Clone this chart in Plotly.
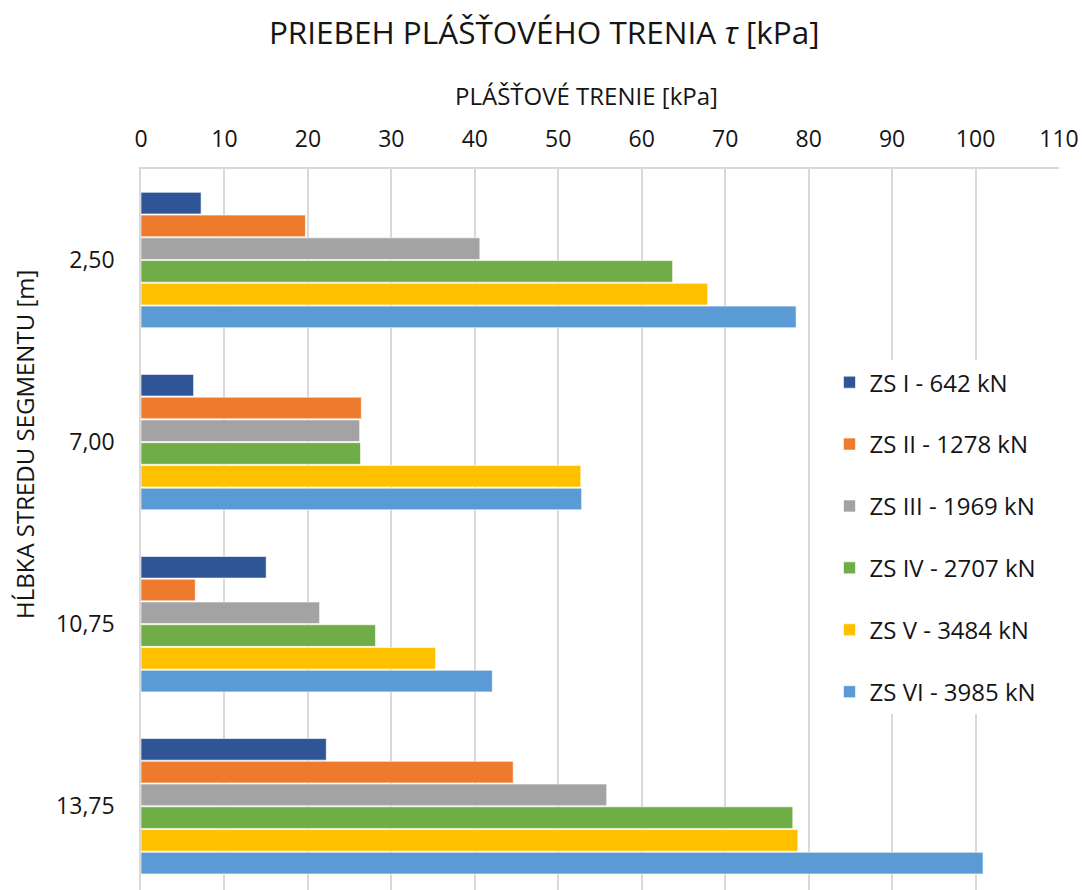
import plotly.graph_objects as go

categories = ["2,50", "7,00", "10,75", "13,75"]
series_names = ["ZS I - 642 kN", "ZS II - 1278 kN", "ZS III - 1969 kN",
                "ZS IV - 2707 kN", "ZS V - 3484 kN", "ZS VI - 3985 kN"]
zs1 = [7.2, 6.3, 15.0, 22.2]
zs2 = [19.7, 26.4, 6.5, 44.6]
zs3 = [40.6, 26.2, 21.4, 55.8]
zs4 = [63.7, 26.3, 28.1, 78.1]
zs5 = [67.9, 52.7, 35.3, 78.7]
zs6 = [78.5, 52.8, 42.1, 100.9]
series_values = [zs1, zs2, zs3, zs4, zs5, zs6]
colors = ["#2F5597", "#EE7A2E", "#A3A3A3", "#70AD47", "#FFC000", "#5B9BD5"]
x_ticks = list(range(0, 111, 10))

FONT = "Open Sans"
TXT = "#151515"
W, H = 1082, 890
ML, MR, MT, MB = 141, 23, 169, 0
PW, PH = W - ML - MR, H - MT - MB


def px_to_paper(xp, yp):
    return (xp - ML) / PW, (H - MB - yp) / PH


fig = go.Figure()
for i, (name, vals, col) in enumerate(zip(series_names, series_values, colors)):
    fig.add_trace(go.Bar(
        y=categories, x=vals, name=name, orientation="h",
        marker=dict(color=col, line=dict(color="rgba(255,255,255,0.6)", width=1)),
        legendgroup=f"g{i}",
    ))

ax_x, ax_y = px_to_paper(586, 95)
ay_x, ay_y = px_to_paper(24, 445)

fig.update_layout(
    width=W, height=H,
    paper_bgcolor="white", plot_bgcolor="white",
    margin=dict(l=ML, r=MR, t=MT, b=MB, autoexpand=False),
    barmode="group", bargap=0.25, bargroupgap=0.05,
    font=dict(family=FONT, size=23, color=TXT),
    title=dict(text="PRIEBEH PLÁŠŤOVÉHO TRENIA <i>τ</i> [kPa]",
               x=0.503, xanchor="center", y=1 - 33 / H, yanchor="middle",
               font=dict(family=FONT, size=31.5, color=TXT)),
    xaxis=dict(side="top", range=[0, 110], tickvals=x_ticks,
               showgrid=True, gridcolor="#D9D9D9", gridwidth=1.5,
               zeroline=False, showline=True, linecolor="#D9D9D9", linewidth=1.5,
               ticks="", ticklabelstandoff=11, automargin=False,
               tickfont=dict(size=23, color=TXT)),
    yaxis=dict(type="category", range=[3.46, -0.5],
               showgrid=False, showline=True, linecolor="#D9D9D9", linewidth=1.5,
               ticks="", ticklabelstandoff=20, automargin=False,
               tickfont=dict(size=23, color=TXT)),
    legend=dict(x=0.750, y=0.735, xanchor="left", yanchor="top",
                bgcolor="white", traceorder="grouped", tracegroupgap=27.7,
                font=dict(size=24, color=TXT)),
    annotations=[
        dict(text="PLÁŠŤOVÉ TRENIE [kPa]", xref="paper", yref="paper",
             x=ax_x, y=ax_y, xanchor="center", yanchor="middle",
             showarrow=False, font=dict(size=24, color=TXT)),
        dict(text="HĹBKA STREDU SEGMENTU [m]", xref="paper", yref="paper",
             x=ay_x, y=ay_y, xanchor="center", yanchor="middle", textangle=-90,
             showarrow=False, font=dict(size=24, color=TXT)),
    ],
)

fig.write_html("out.html", config={"displayModeBar": False},
               post_script="document.body.style.margin='0px';")
